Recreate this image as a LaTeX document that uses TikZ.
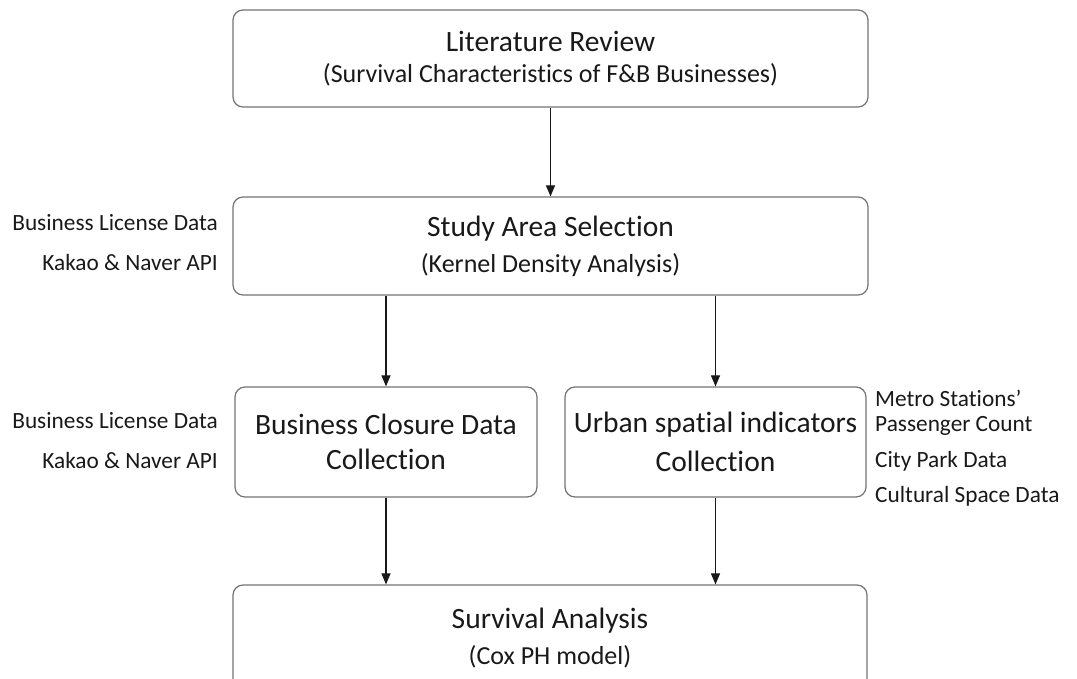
\documentclass[tikz,border=0pt]{standalone}
\usepackage{fontspec}
\setmainfont{Carlito}[Ligatures=NoCommon]
\usetikzlibrary{arrows.meta}
\newcommand{\ttlfont}{\fontsize{29.5}{34}\selectfont}
\newcommand{\subfont}{\fontsize{26}{30}\selectfont}
\begin{document}
\begin{tikzpicture}[x=1pt,y=-1pt,
  box/.style={draw=black!55, line width=1.2pt, rounded corners=10pt, align=center, inner sep=0pt, text=black!90},
  arr/.style={-{Triangle[length=11pt,width=9pt]}, line width=1.1pt, black!90},
  lab/.style={font=\fontsize{23.3}{27}\selectfont, inner sep=0pt, text=black!90},
  txt/.style={align=center, inner sep=0pt, text=black!90}]
\useasboundingbox (0,0) rectangle (1077,678);
\clip (0,0) rectangle (1077,678);
\node[box, minimum width=635pt, minimum height=97pt] (lit) at (550.5,58.5)
  {\ttlfont Literature Review\\[11pt]\subfont (Survival Characteristics of F\&B Businesses)};
\node[box, minimum width=635pt, minimum height=98pt] (study) at (550.5,246)
  {\ttlfont Study Area Selection\\[11pt]\subfont (Kernel Density Analysis)};
\node[box, minimum width=302pt, minimum height=110pt] (closure) at (386,442)
  {\ttlfont Business Closure Data\\[13pt]\ttlfont Collection};
\node[box, minimum width=301pt, minimum height=110pt] (urban) at (715.5,442)
  {\ttlfont Urban spatial indicators\\[13pt]\ttlfont Collection};
\node[box, minimum width=634pt, minimum height=120pt] (surv) at (550,645) {};
\node[txt] (survtxt) at (550,638) {\ttlfont Survival Analysis\\[11pt]\subfont (Cox PH model)};
\draw[arr] (lit.south) -- (study.north);
\draw[arr] (closure.north |- study.south) -- (closure.north);
\draw[arr] (urban.north |- study.south) -- (urban.north);
\draw[arr] (closure.south) -- (closure.south |- surv.north);
\draw[arr] (urban.south) -- (urban.south |- surv.north);
\node[lab, anchor=east] (l1) at (218,223) {Business License Data};
\node[lab, anchor=east] (l2) at (218,262) {Kakao \& Naver API};
\node[lab, anchor=east] (l3) at (218,421) {Business License Data};
\node[lab, anchor=east] (l4) at (218,460) {Kakao \& Naver API};
\node[lab, anchor=west, align=left, font=\fontsize{23.3}{25}\selectfont] (r1) at (875,413) {Metro Stations’\\Passenger Count};
\node[lab, anchor=west] (r2) at (875,461) {City Park Data};
\node[lab, anchor=west] (r3) at (875,496) {Cultural Space Data};
\end{tikzpicture}
\end{document}
